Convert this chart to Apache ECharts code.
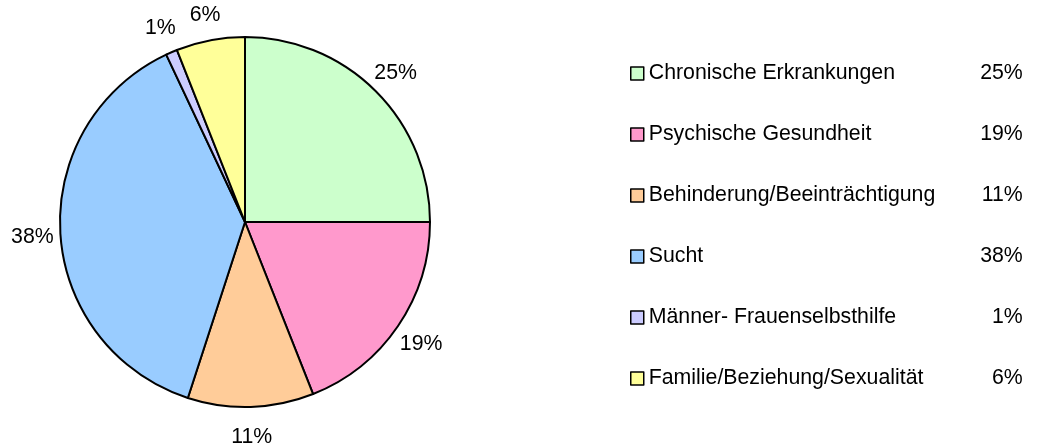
<!DOCTYPE html>
<html>
<head>
<meta charset="utf-8">
<script src="https://cdn.jsdelivr.net/npm/echarts@6/dist/echarts.min.js"></script>
<style>
html,body{margin:0;padding:0;background:#fff;}
#chart{width:1039px;height:444px;}
</style>
</head>
<body>
<div id="chart"></div>
<script>
var categories = ['Chronische Erkrankungen', 'Psychische Gesundheit', 'Behinderung/Beeinträchtigung', 'Sucht', 'Männer- Frauenselbsthilfe', 'Familie/Beziehung/Sexualität'];
var values = [25, 19, 11, 38, 1, 6];
var colors = ['#CCFFCC', '#FF99CC', '#FFCC99', '#99CCFF', '#CCCCFF', '#FFFF99'];

var FONT = '"Liberation Sans", Arial, sans-serif';
var pieData = categories.map(function (c, i) {
  return { name: c, value: values[i], itemStyle: { color: colors[i] } };
});
var labelData = categories.map(function (c, i) {
  return { name: c, value: values[i] };
});
var pctByName = {};
categories.forEach(function (c, i) { pctByName[c] = values[i] + '%'; });

var chart = echarts.init(document.getElementById('chart'), null, { renderer: 'canvas' });
chart.setOption({
  animation: false,
  backgroundColor: '#fff',
  legend: {
    orient: 'vertical',
    left: 630,
    top: 63,
    padding: 0,
    itemWidth: 13,
    itemHeight: 13,
    itemGap: 40,
    icon: 'rect',
    selectedMode: false,
    data: categories,
    itemStyle: { borderColor: '#000', borderWidth: 1.5 },
    formatter: function (name) {
      return '{n|' + name + '}{p|' + pctByName[name] + '}';
    },
    textStyle: {
      fontFamily: FONT,
      fontSize: 21.3,
      color: '#000',
      rich: {
        n: { fontFamily: FONT, fontSize: 21.3, color: '#000', width: 330, lineHeight: 22 },
        p: { fontFamily: FONT, fontSize: 21.3, color: '#000', width: 44, align: 'right', lineHeight: 22 }
      }
    }
  },
  series: [
    {
      type: 'pie',
      center: [245, 222],
      radius: 185,
      startAngle: 90,
      clockwise: true,
      silent: true,
      label: { show: false },
      labelLine: { show: false },
      itemStyle: { borderColor: '#000', borderWidth: 2 },
      emphasis: { disabled: true },
      data: pieData
    },
    {
      type: 'pie',
      center: [245, 224],
      radius: 420,
      startAngle: 90,
      clockwise: true,
      silent: true,
      legendHoverLink: false,
      itemStyle: { color: 'rgba(0,0,0,0)', borderWidth: 0 },
      label: {
        show: true,
        position: 'inside',
        formatter: '{c}%',
        fontFamily: FONT,
        fontSize: 21.3,
        color: '#000'
      },
      labelLine: { show: false },
      emphasis: { disabled: true },
      data: labelData
    }
  ]
});
</script>
</body>
</html>
